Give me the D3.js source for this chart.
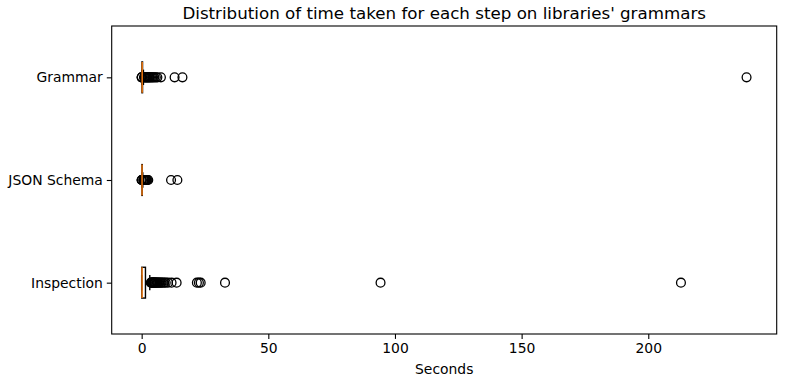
<!DOCTYPE html>
<html>
<head>
<meta charset="utf-8">
<script src="https://cdn.jsdelivr.net/npm/d3@7"></script>
<style>
  body { margin: 0; background: #fff; }
  text { font-family: "DejaVu Sans", sans-serif; fill: #000; }
</style>
</head>
<body>
<div id="chart"></div>
<script>
// categories, bottom to top (matplotlib positions 1..3)
var categories = ["Inspection", "JSON Schema", "Grammar"];

// box stats, seconds
var whiskerLow  = [0.0, 0.06, 0.07];
var q1          = [0.05, 0.09, 0.1];
var medians     = [0.15, 0.15, 0.2];
var q3          = [1.5, 0.25, 0.35];
var whiskerHigh = [3.2, 0.45, 0.7];

// fliers, seconds
var inspectionOutliers = [3.6, 3.8, 4.0, 4.2, 4.4, 4.6, 4.8, 5.0, 5.2, 5.4, 5.7, 6.0, 6.3, 6.6, 7.0, 7.4,
                          7.8, 8.3, 8.9, 9.5, 10.4, 11.8, 13.8, 21.8, 22.6, 23.3, 32.9, 94.3, 212.9];
var jsonOutliers = [0.0, 0.01, 0.02, 0.6, 0.8, 1.0, 1.2, 1.4, 1.6, 1.8, 2.0, 2.3, 2.6, 11.6, 14.1];
var grammarOutliers = [0.0, 0.01, 0.02, 0.9, 1.2, 1.5, 1.8, 2.1, 2.4, 2.7, 3.0, 3.3, 3.7, 4.1, 4.5,
                       5.0, 5.6, 6.2, 7.6, 13.0, 16.1, 238.8];
var outliers = [inspectionOutliers, jsonOutliers, grammarOutliers];

var xTicks = [0, 50, 100, 150, 200];

var width = 786, height = 380;
var mLeft = 111.7, mRight = 776.7, mTop = 26, mBottom = 334;

var svg = d3.select("#chart").append("svg")
  .attr("width", width)
  .attr("height", height);

var x = d3.scaleLinear().domain([-11.83, 250.7]).range([mLeft, mRight]);
var y = d3.scaleLinear().domain([0.5, 3.5]).range([mBottom, mTop]);
var boxHalf = 0.15, capHalf = 0.075;

var plot = svg.append("g");

categories.forEach(function(c, i) {
  var pos = i + 1;
  var g = plot.append("g");
  // whiskers
  g.append("line")
    .attr("x1", x(whiskerLow[i])).attr("x2", x(q1[i]))
    .attr("y1", y(pos)).attr("y2", y(pos))
    .attr("stroke", "#000").attr("stroke-width", 1.4);
  g.append("line")
    .attr("x1", x(q3[i])).attr("x2", x(whiskerHigh[i]))
    .attr("y1", y(pos)).attr("y2", y(pos))
    .attr("stroke", "#000").attr("stroke-width", 1.4);
  // caps
  [whiskerLow[i], whiskerHigh[i]].forEach(function(v) {
    g.append("line")
      .attr("x1", x(v)).attr("x2", x(v))
      .attr("y1", y(pos - capHalf)).attr("y2", y(pos + capHalf))
      .attr("stroke", "#000").attr("stroke-width", 1.4);
  });
  // box
  g.append("rect")
    .attr("x", x(q1[i]))
    .attr("y", y(pos + boxHalf))
    .attr("width", x(q3[i]) - x(q1[i]))
    .attr("height", y(pos - boxHalf) - y(pos + boxHalf))
    .attr("fill", "none")
    .attr("stroke", "#000").attr("stroke-width", 1.4);
  // fliers
  g.selectAll("circle.flier")
    .data(outliers[i])
    .enter().append("circle")
    .attr("class", "flier")
    .attr("cx", function(d) { return x(d); })
    .attr("cy", y(pos))
    .attr("r", 4.4)
    .attr("fill", "none")
    .attr("stroke", "#000")
    .attr("stroke-width", 1.3);
  // median
  g.append("line")
    .attr("x1", x(medians[i])).attr("x2", x(medians[i]))
    .attr("y1", y(pos - boxHalf)).attr("y2", y(pos + boxHalf))
    .attr("stroke", "#ff7f0e").attr("stroke-width", 1.4);
});

// frame
svg.append("rect")
  .attr("x", mLeft).attr("y", mTop)
  .attr("width", mRight - mLeft).attr("height", mBottom - mTop)
  .attr("fill", "none").attr("stroke", "#000").attr("stroke-width", 1.1);

// x axis
var xAxis = d3.axisBottom(x).tickValues(xTicks).tickSize(4.9).tickPadding(4);
var gx = svg.append("g").attr("transform", "translate(0," + mBottom + ")").call(xAxis);
gx.select(".domain").remove();
gx.selectAll("line").attr("stroke-width", 1.1);
gx.selectAll("text").style("font-size", "13.9px").style("font-family", "DejaVu Sans");

// y axis
var yAxis = d3.axisLeft(y).tickValues([1, 2, 3])
  .tickFormat(function(d) { return categories[d - 1]; })
  .tickSize(4.9).tickPadding(4);
var gy = svg.append("g").attr("transform", "translate(" + mLeft + ",0)").call(yAxis);
gy.select(".domain").remove();
gy.selectAll("line").attr("stroke-width", 1.1);
gy.selectAll("text").style("font-size", "13.9px").style("font-family", "DejaVu Sans");

// labels
svg.append("text")
  .attr("x", (mLeft + mRight) / 2).attr("y", 374)
  .attr("text-anchor", "middle")
  .style("font-size", "13.9px")
  .text("Seconds");

svg.append("text")
  .attr("x", (mLeft + mRight) / 2).attr("y", 19)
  .attr("text-anchor", "middle")
  .style("font-size", "16.7px")
  .text("Distribution of time taken for each step on libraries' grammars");
</script>
</body>
</html>
